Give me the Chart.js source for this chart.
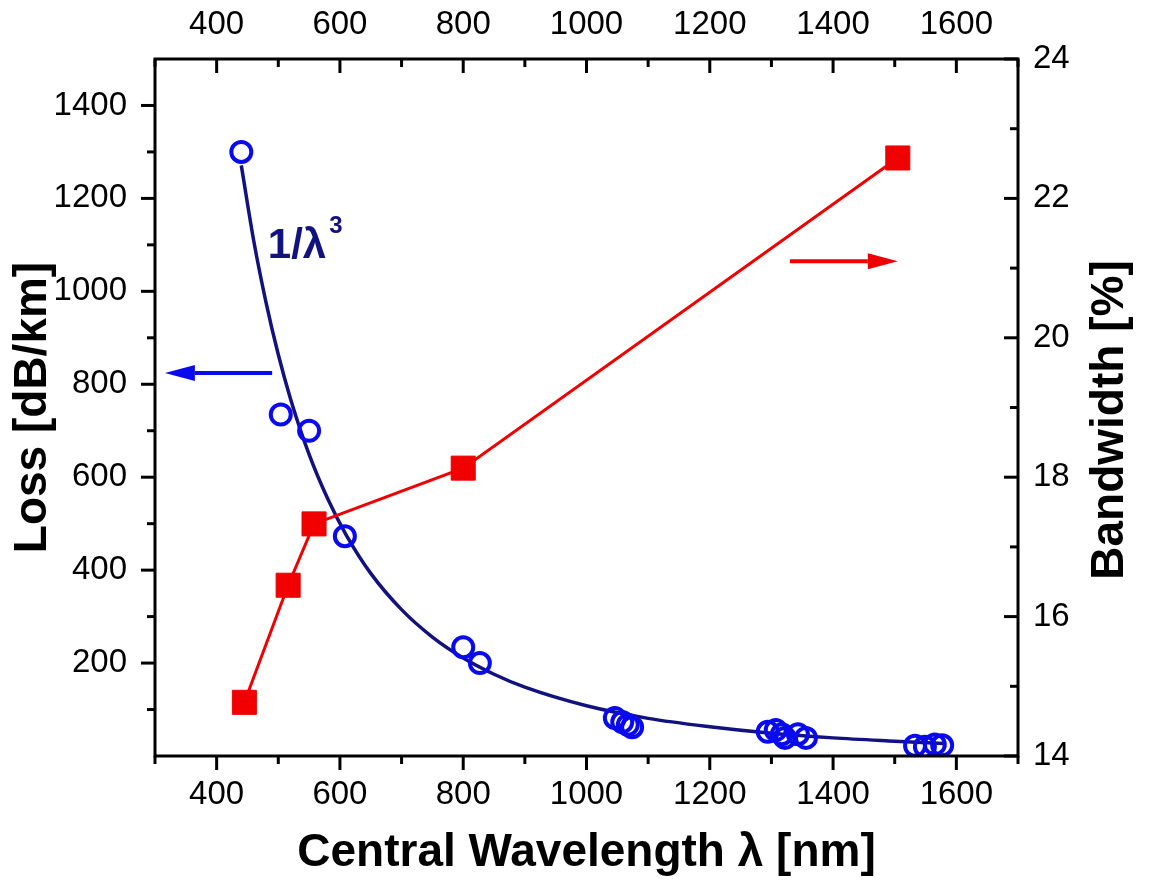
<!DOCTYPE html>
<html>
<head>
<meta charset="utf-8">
<script src="https://cdn.jsdelivr.net/npm/chart.js@4/dist/chart.umd.min.js"></script>
<style>
  html, body { margin: 0; padding: 0; background: #fff; }
  #wrap { width: 1152px; height: 881px; }
</style>
</head>
<body>
<div id="wrap"><canvas id="myChart"></canvas></div>
<script>
// measured loss (circles)
const lossWavelength = [440, 504, 550, 608, 800, 827, 1046, 1058, 1067, 1074, 1294, 1307, 1317, 1322, 1343, 1356, 1533, 1549, 1565, 1577];
const lossValues     = [1300, 735, 700, 473, 234, 200, 82, 73, 67, 62, 52, 56, 47, 39, 47, 39, 22, 20, 25, 23];

// 1/λ³ curve
const fitWavelength = [440, 460, 480, 500, 520, 550, 580, 610, 650, 700, 750, 800, 850, 900, 1000, 1100, 1200, 1300, 1400, 1500, 1580];
const fitValues     = [1271, 1110, 977, 864, 768, 649, 554, 476, 393, 315, 256, 211, 176, 148, 108, 81, 63, 49, 39, 32, 27];

// bandwidth (squares, right axis)
const bwWavelength = [445, 516, 558, 800, 1505];
const bwValues     = [14.77, 16.45, 17.33, 18.13, 22.58];

// ticks
const xTicks = [400, 600, 800, 1000, 1200, 1400, 1600];
const xMinorTicks = [300, 500, 700, 900, 1100, 1300, 1500, 1700];
const lossTicks = [200, 400, 600, 800, 1000, 1200, 1400];
const lossMinorTicks = [100, 300, 500, 700, 900, 1100, 1300];
const bwTicks = [14, 16, 18, 20, 22, 24];
const bwMinorTicks = [15, 17, 19, 21, 23];

const FONT = "'Liberation Sans', Arial, sans-serif";
const NAVY = '#12127e';
const BLUE = '#0a0aee';
const RED = '#f00000';

const toPoints = (xs, ys) => xs.map((x, i) => ({ x: x, y: ys[i] }));

const arrow = (ctx, x1, y1, x2, y2, color) => {
  const ang = Math.atan2(y2 - y1, x2 - x1);
  const head = 30, half = 8;
  ctx.strokeStyle = color;
  ctx.fillStyle = color;
  ctx.lineWidth = 4;
  ctx.beginPath();
  ctx.moveTo(x1, y1);
  ctx.lineTo(x2 - head * Math.cos(ang), y2 - head * Math.sin(ang));
  ctx.stroke();
  ctx.beginPath();
  ctx.moveTo(x2, y2);
  ctx.lineTo(x2 - head * Math.cos(ang) + half * Math.sin(ang), y2 - head * Math.sin(ang) - half * Math.cos(ang));
  ctx.lineTo(x2 - head * Math.cos(ang) - half * Math.sin(ang), y2 - head * Math.sin(ang) + half * Math.cos(ang));
  ctx.closePath();
  ctx.fill();
};

// 프레임, 눈금, 화살표, 주석
const frameAndTicks = {
  id: 'frameAndTicks',
  afterDraw(chart) {
    const { ctx, chartArea: a, scales } = chart;
    ctx.save();
    ctx.strokeStyle = '#000';
    ctx.lineWidth = 3;

    const line = (x1, y1, x2, y2) => {
      ctx.beginPath(); ctx.moveTo(x1, y1); ctx.lineTo(x2, y2); ctx.stroke();
    };
    xTicks.forEach(v => {
      const px = scales.x.getPixelForValue(v);
      line(px, a.bottom, px, a.bottom + 14);
      line(px, a.top, px, a.top + 14);
    });
    xMinorTicks.forEach(v => {
      const px = scales.x.getPixelForValue(v);
      line(px, a.bottom, px, a.bottom + 8);
      line(px, a.top, px, a.top + 8);
    });
    lossTicks.forEach(v => {
      const py = scales.y.getPixelForValue(v);
      line(a.left, py, a.left - 14, py);
    });
    lossMinorTicks.forEach(v => {
      const py = scales.y.getPixelForValue(v);
      line(a.left, py, a.left - 8, py);
    });
    bwTicks.forEach(v => {
      const py = scales.y2.getPixelForValue(v);
      line(a.right, py, a.right - 14, py);
    });
    bwMinorTicks.forEach(v => {
      const py = scales.y2.getPixelForValue(v);
      line(a.right, py, a.right - 8, py);
    });
    ctx.strokeRect(a.left, a.top, a.width, a.height);

    // arrows
    const yl = scales.y.getPixelForValue(824);
    arrow(ctx, scales.x.getPixelForValue(490), yl, scales.x.getPixelForValue(316), yl, BLUE);
    const yr = scales.y2.getPixelForValue(21.1);
    arrow(ctx, scales.x.getPixelForValue(1330), yr, scales.x.getPixelForValue(1505), yr, RED);

    // 1/λ³ label
    const tx = scales.x.getPixelForValue(483);
    const ty = scales.y.getPixelForValue(1071);
    ctx.fillStyle = NAVY;
    ctx.textBaseline = 'alphabetic';
    ctx.textAlign = 'left';
    ctx.font = 'bold 42px ' + FONT;
    ctx.fillText('1/λ', tx, ty);
    const w = ctx.measureText('1/λ').width;
    ctx.font = 'bold 24px ' + FONT;
    ctx.fillText('3', tx + w + 3, ty - 25);

    // right axis title, reading bottom to top
    ctx.fillStyle = '#000';
    ctx.font = 'bold 46px ' + FONT;
    ctx.textAlign = 'center';
    ctx.textBaseline = 'middle';
    ctx.translate(1110, 420);
    ctx.rotate(-Math.PI / 2);
    ctx.fillText('Bandwidth [%]', 0, 0);
    ctx.restore();
  }
};

const tickOpts = (pad) => ({
  font: { family: FONT, size: 33 },
  color: '#000',
  padding: pad,
  maxRotation: 0,
  autoSkip: false,
  callback: v => String(v)
});

const noGrid = { display: false, drawTicks: false };

new Chart(document.querySelector('#myChart'), {
  type: 'scatter',
  data: {
    datasets: [{
      label: '1/λ³',
      data: toPoints(fitWavelength, fitValues),
      showLine: true,
      borderColor: NAVY,
      borderWidth: 3.5,
      pointRadius: 0,
      cubicInterpolationMode: 'monotone',
      yAxisID: 'y',
      order: 3
    }, {
      label: 'Bandwidth',
      data: toPoints(bwWavelength, bwValues),
      showLine: true,
      borderColor: RED,
      backgroundColor: RED,
      borderWidth: 3,
      pointStyle: 'rect',
      pointRadius: 17,
      pointBorderWidth: 1,
      yAxisID: 'y2',
      order: 2
    }, {
      label: 'Loss',
      data: toPoints(lossWavelength, lossValues),
      pointStyle: 'circle',
      pointRadius: 10,
      pointBorderWidth: 4,
      borderColor: BLUE,
      backgroundColor: 'rgba(0,0,0,0)',
      yAxisID: 'y',
      order: 1
    }]
  },
  options: {
    responsive: true,
    maintainAspectRatio: false,
    animation: false,
    layout: { padding: 0 },
    plugins: { legend: { display: false }, tooltip: { enabled: false } },
    scales: {
      x: {
        type: 'linear', position: 'bottom', min: 300, max: 1700,
        afterBuildTicks: s => { s.ticks = xTicks.map(v => ({ value: v })); },
        afterFit: s => { s.height = 125; },
        grid: noGrid, border: { display: false },
        ticks: tickOpts(19),
        title: { display: true, text: 'Central Wavelength λ [nm]', color: '#000',
          font: { family: FONT, size: 46, weight: 'bold' }, padding: { top: 0, bottom: 0 } }
      },
      x2: {
        type: 'linear', position: 'top', min: 300, max: 1700,
        afterBuildTicks: s => { s.ticks = xTicks.map(v => ({ value: v })); },
        afterFit: s => { s.height = 59; },
        grid: noGrid, border: { display: false },
        ticks: tickOpts(14)
      },
      y: {
        type: 'linear', position: 'left', min: 0, max: 1500,
        afterBuildTicks: s => { s.ticks = lossTicks.map(v => ({ value: v })); },
        afterFit: s => { s.width = 155; },
        grid: noGrid, border: { display: false },
        ticks: tickOpts(28),
        title: { display: true, text: 'Loss [dB/km]', color: '#000',
          font: { family: FONT, size: 46, weight: 'bold' }, padding: { top: 6, bottom: 0 } }
      },
      y2: {
        type: 'linear', position: 'right', min: 14, max: 24,
        afterBuildTicks: s => { s.ticks = bwTicks.map(v => ({ value: v })); },
        afterFit: s => { s.width = 134; },
        grid: noGrid, border: { display: false },
        ticks: tickOpts(15)
      }
    }
  },
  plugins: [frameAndTicks]
});
</script>
</body>
</html>
